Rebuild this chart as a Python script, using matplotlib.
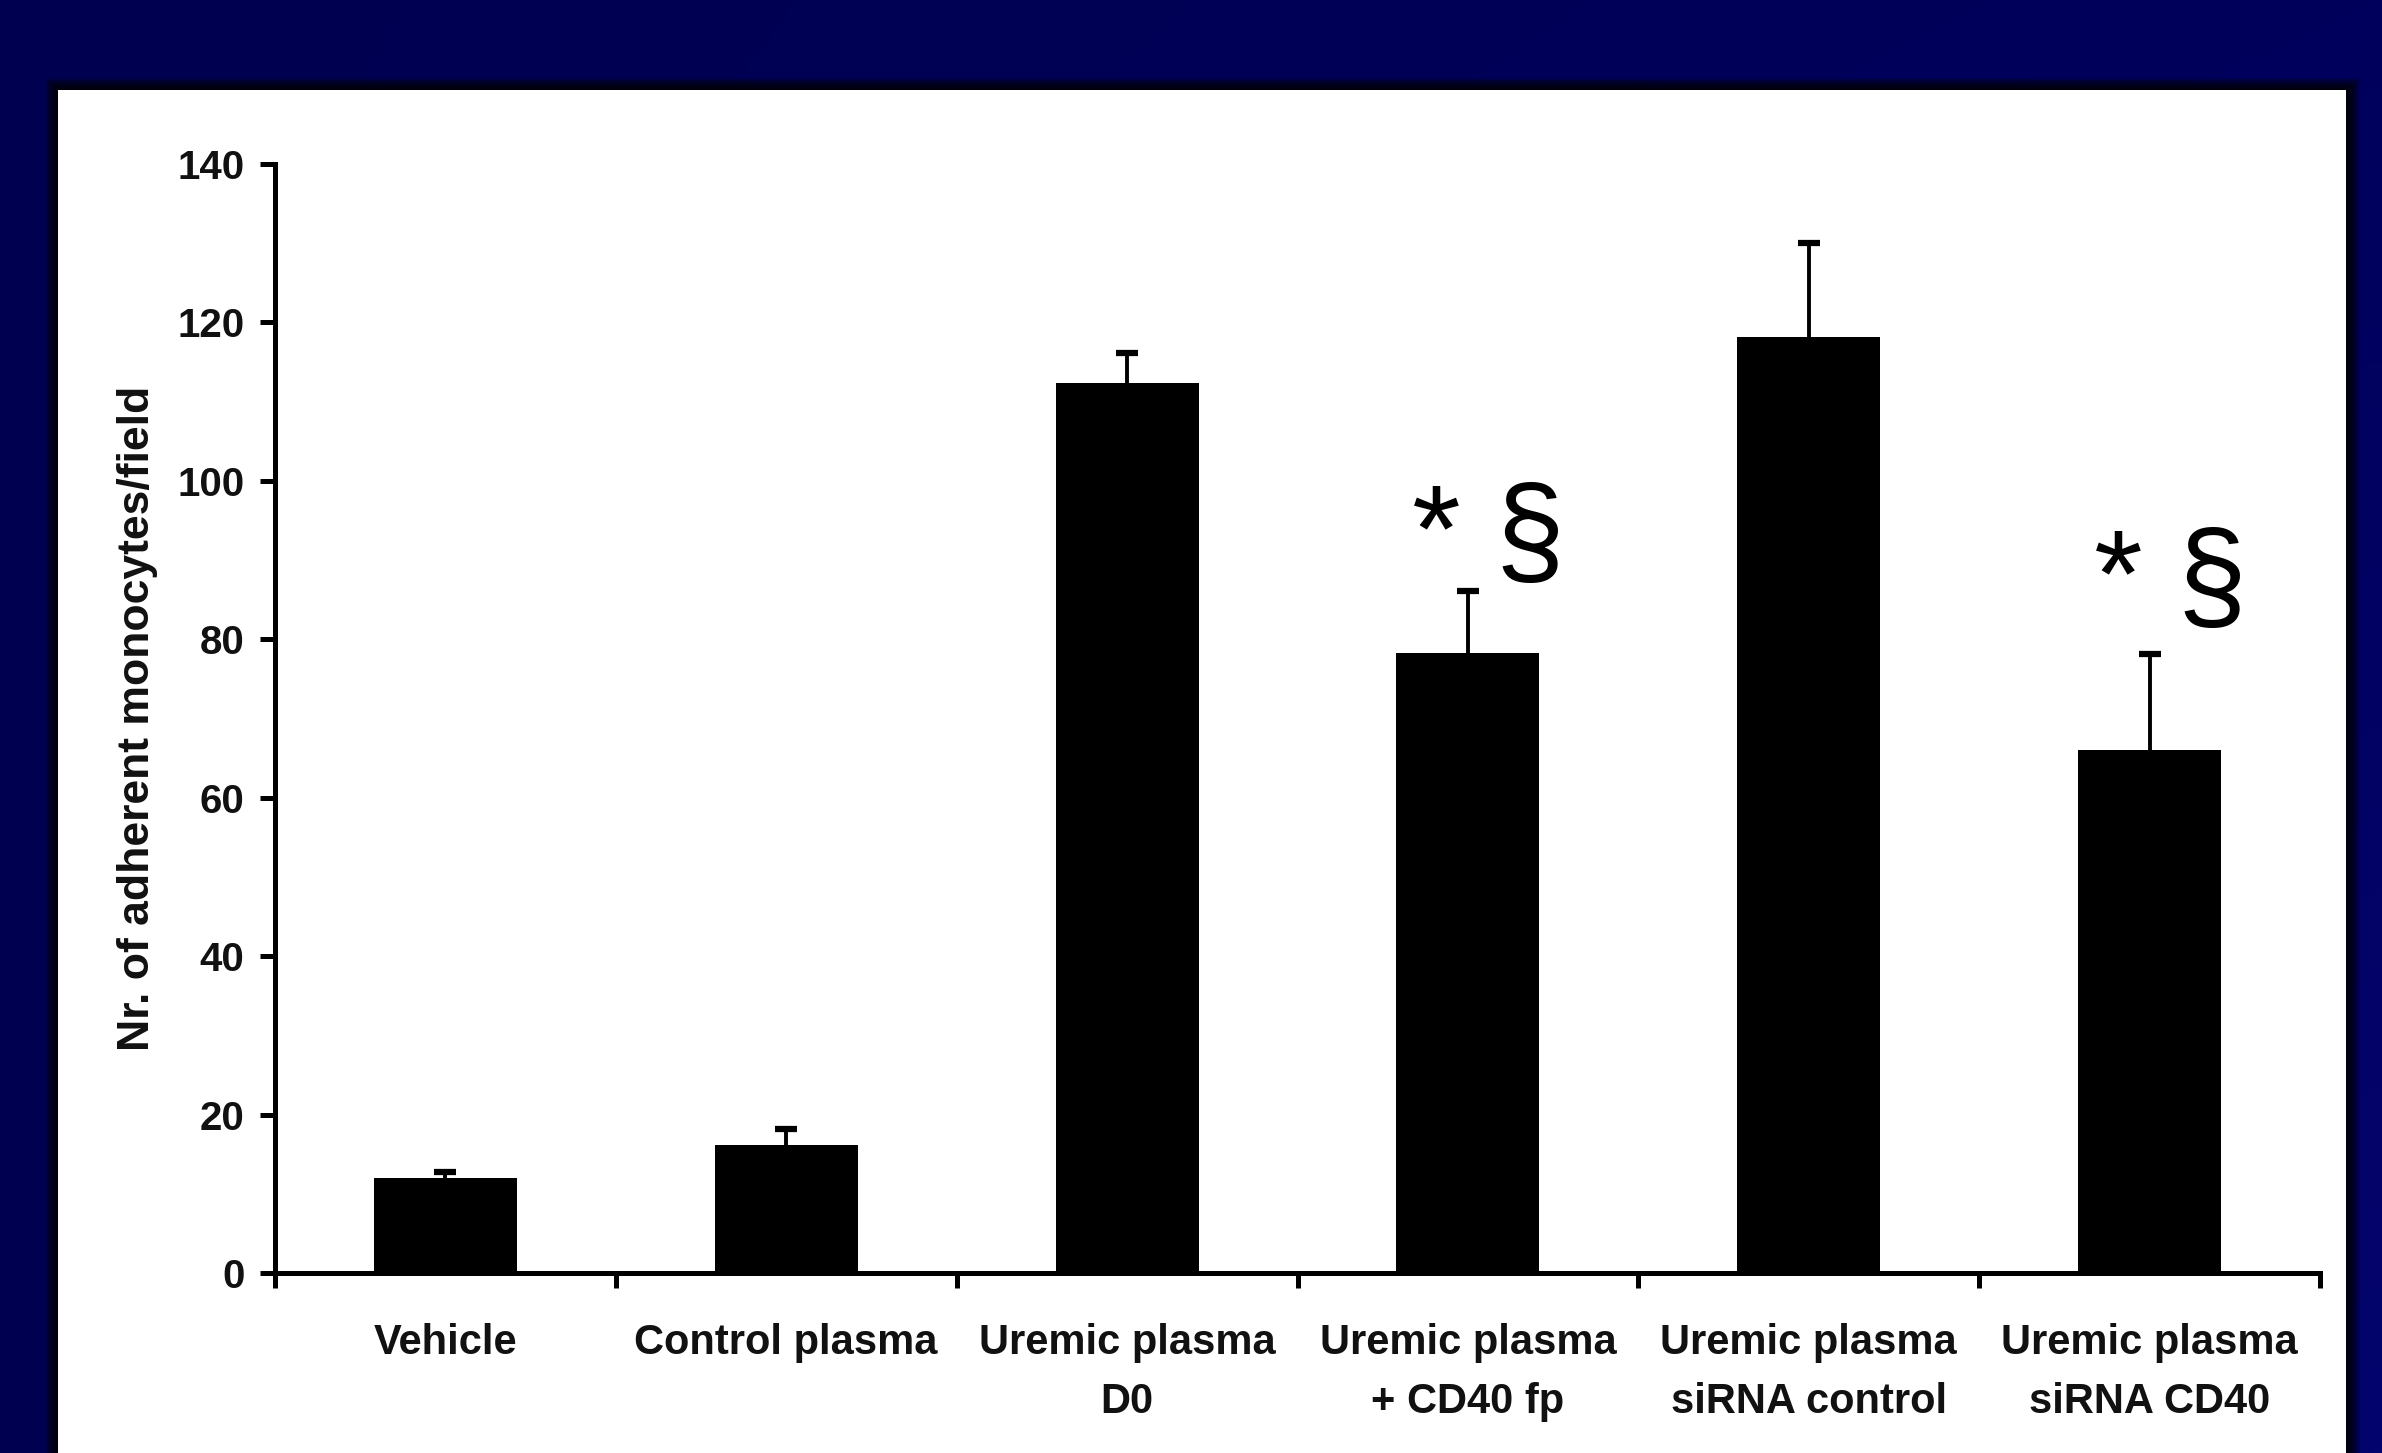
import numpy as np
import matplotlib
matplotlib.use("Agg")
import matplotlib.pyplot as plt
from matplotlib.patches import Rectangle

# ---- data -------------------------------------------------------------
categories = ["Vehicle", "Control plasma", "Uremic plasma\nD0",
              "Uremic plasma\n+ CD40 fp", "Uremic plasma\nsiRNA control",
              "Uremic plasma\nsiRNA CD40"]
means = [12.0, 16.1, 112.4, 78.3, 118.1, 66.0]
sem_upper = [0.8, 2.1, 3.8, 7.8, 11.9, 12.1]
yticks = [0, 20, 40, 60, 80, 100, 120, 140]
ylabel = "Nr. of adherent monocytes/field"

# significance marks: (bar index, top of text in data units)
sig_bars = [3, 5]
sig_tops = [99.8, 94.2]
sig_text = "* \u00a7"

# ---- figure -----------------------------------------------------------
W, H = 2382, 1453
fig = plt.figure(figsize=(W / 100, H / 100), dpi=100)
fig.patch.set_facecolor("#000050")

# navy slide background with a soft gradient
bg = fig.add_axes([0, 0, 1, 1], zorder=-10)
gx = np.linspace(0, 1, 300)[None, :]
gy = np.linspace(0, 1, 200)[:, None]
blue = 80 + 30 * gx * (0.4 + 0.6 * gy)
red = 4 * gx * gy
img = np.dstack([red, red, blue]) / 255.0
bg.imshow(img, aspect="auto", extent=[0, 1, 0, 1], origin="upper")
bg.set_axis_off()

# white panel with a dark drop shadow
px0, py0, px1 = 58, 90, 2346  # panel edges in pixels (top-origin)
def fig_rect(x0, y0, x1, y1, **kw):
    return Rectangle((x0 / W, 1 - y1 / H), (x1 - x0) / W, (y1 - y0) / H,
                     transform=fig.transFigure, **kw)

for k in range(12, 0, -1):
    fig.add_artist(fig_rect(px0 - k, py0 - k, px1 + k + 2, H + 50,
                            facecolor="black", edgecolor="none",
                            alpha=0.13, zorder=-6))
fig.add_artist(fig_rect(px0, py0, px1, H + 50, facecolor="white",
                        edgecolor="none", zorder=-5))

# ---- chart ------------------------------------------------------------
ax_left, ax_right, ax_bot, ax_top = 275, 2320, 1273, 164
ax = fig.add_axes([ax_left / W, 1 - ax_bot / H,
                   (ax_right - ax_left) / W, (ax_bot - ax_top) / H])
ax.set_facecolor("none")

x = np.arange(len(categories))
ax.bar(x, means, width=0.42, color="black", zorder=2)

eb = ax.errorbar(x, means, yerr=[np.zeros(len(means)), sem_upper],
                 fmt="none", ecolor="black", elinewidth=2.8,
                 capsize=8, capthick=4.5, zorder=3)
# keep only the upper caps
for cap in eb.lines[1]:
    if np.allclose(cap.get_ydata(), means):
        cap.set_visible(False)

ax.set_xlim(-0.5, len(categories) - 0.5)
ax.set_ylim(0, 140)

for side in ("top", "right"):
    ax.spines[side].set_visible(False)
for side in ("left", "bottom"):
    ax.spines[side].set_linewidth(3.6)
    ax.spines[side].set_color("black")

# y axis
ax.set_yticks(yticks)
ax.set_yticklabels([str(v) for v in yticks], fontfamily="Liberation Sans",
                   fontweight="bold", fontsize=29, color="#111111")
ax.tick_params(axis="y", direction="out", length=11, width=3.6, pad=11)

# x axis: ticks at category boundaries, labels centred under bars
ax.set_xticks(np.arange(-0.5, len(categories)))
ax.set_xticklabels([])
ax.tick_params(axis="x", which="major", direction="out", length=11, width=3.6)
ax.set_xticks(x, minor=True)
ax.set_xticklabels(categories, minor=True, fontfamily="Liberation Sans",
                   fontweight="bold", fontsize=30, color="#111111",
                   linespacing=1.6)
ax.tick_params(axis="x", which="minor", length=0, pad=36)

ax.set_ylabel(ylabel, fontfamily="Liberation Sans", fontweight="bold",
              fontsize=32, color="#111111", labelpad=14)

# significance symbols
for b, top in zip(sig_bars, sig_tops):
    ax.text(b + 0.06, top, sig_text, ha="center", va="top",
            fontfamily="Liberation Sans", fontsize=90, color="black",
            zorder=4)

fig.savefig("out.png", dpi=100, facecolor=fig.get_facecolor())
